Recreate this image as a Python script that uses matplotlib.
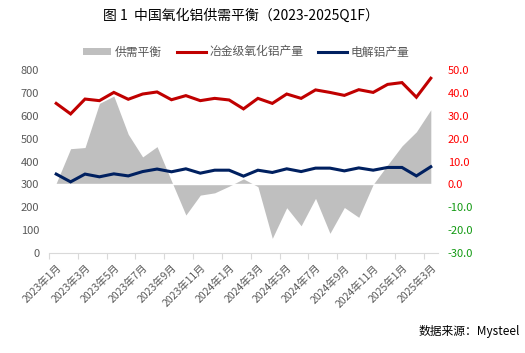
import numpy as np
import matplotlib
matplotlib.use('Agg')
import matplotlib.pyplot as plt
from matplotlib.patches import Patch
from matplotlib.lines import Line2D

plt.rcParams['font.family'] = ['Noto Sans CJK SC', 'DejaVu Sans']

# monthly data, 2023-01 .. 2025-03
months = ['2023年1月', '2023年2月', '2023年3月', '2023年4月', '2023年5月', '2023年6月',
          '2023年7月', '2023年8月', '2023年9月', '2023年10月', '2023年11月', '2023年12月',
          '2024年1月', '2024年2月', '2024年3月', '2024年4月', '2024年5月', '2024年6月',
          '2024年7月', '2024年8月', '2024年9月', '2024年10月', '2024年11月', '2024年12月',
          '2025年1月', '2025年2月', '2025年3月']

alumina = [654, 608, 673, 666, 702, 672, 695, 704, 670, 688, 666, 676, 669, 630,
           676, 654, 695, 676, 713, 702, 689, 714, 702, 737, 745, 681, 764]
aluminium = [345, 311, 345, 333, 346, 337, 356, 367, 355, 368, 349, 362, 362, 336,
             362, 352, 368, 356, 371, 371, 359, 372, 362, 374, 374, 337, 377]
balance = [0.5, 15.6, 16.1, 35.4, 38.6, 21.9, 12.0, 16.5, 1.5, -13.4, -4.7, -3.7, -0.8, 2.4,
           -1.0, -23.6, -10.2, -18.1, -6.1, -21.4, -10.1, -14.4, 0.0, 8.5, 16.8, 23.0, 32.6]

x = np.arange(len(months))

fig = plt.figure(figsize=(5.25, 3.53), dpi=100)
ax = fig.add_axes([49/525, 1-253/353, (438-49)/525, (253-70)/353])
ax2 = ax.twinx()

# supply/demand balance as grey area on right axis
ax2.fill_between(x, balance, 0, color='#bfbfbf', lw=0)
ax2.plot([x[0], x[-1]], [0, 0], color='white', lw=1)
ax2.set_ylim(-30, 50)
ax2.set_yticks(np.arange(-30, 51, 10))
ax2.set_yticklabels(['%.1f' % v for v in np.arange(-30, 51, 10)])
for v, lab in zip(np.arange(-30, 51, 10), ax2.get_yticklabels()):
    lab.set_color('#ff0000' if v >= 0 else '#119911')

ax.plot(x, alumina, color='#c00000', lw=2.2, solid_joinstyle='miter')
ax.plot(x, aluminium, color='#002060', lw=2.2, solid_joinstyle='miter')
ax.set_zorder(ax2.get_zorder() + 1)
ax.patch.set_visible(False)

ax.set_ylim(0, 800)
ax.set_yticks(np.arange(0, 801, 100))
ax.set_xlim(-0.5, len(months) - 0.5)
ax.set_xticks(np.arange(-0.5, len(months) - 1, 2))
ax.set_xticklabels([])
ax.set_xticks(x[::2], minor=True)
ax.set_xticklabels(months[::2], minor=True, rotation=45, ha='right', va='top',
                   rotation_mode='anchor', fontsize=7.5, color='#595959')
ax.tick_params(axis='x', which='major', length=4, color='#d9d9d9', width=0.8)
ax.tick_params(axis='x', which='minor', length=0, pad=7)
ax.tick_params(axis='y', length=0, labelsize=8, colors='#595959', pad=7)
ax2.tick_params(axis='y', length=0, labelsize=8, pad=7)

for a in (ax, ax2):
    for s in ('top', 'left', 'right'):
        a.spines[s].set_visible(False)
ax2.spines['bottom'].set_visible(False)
ax.spines['bottom'].set_color('#d9d9d9')

fig.text(241/525, 1-16/353, '图 1  中国氧化铝供需平衡（2023-2025Q1F）', ha='center', va='center',
         fontsize=10, color='black')

handles = [Patch(facecolor='#bfbfbf', edgecolor='none'),
           Line2D([], [], color='#c00000', lw=2.2),
           Line2D([], [], color='#002060', lw=2.2)]
fig.legend(handles, ['供需平衡', '冶金级氧化铝产量', '电解铝产量'], ncol=3, frameon=False,
           loc='center', bbox_to_anchor=(246/525, 1-52/353), fontsize=8.5,
           labelcolor='#595959', handlelength=2.4, handleheight=0.6,
           handletextpad=0.3, columnspacing=1.3)

fig.text(520/525, 1-331/353, '数据来源：Mysteel', ha='right', va='center', fontsize=8.5,
         color='black')

fig.savefig('out.png', dpi=100)
